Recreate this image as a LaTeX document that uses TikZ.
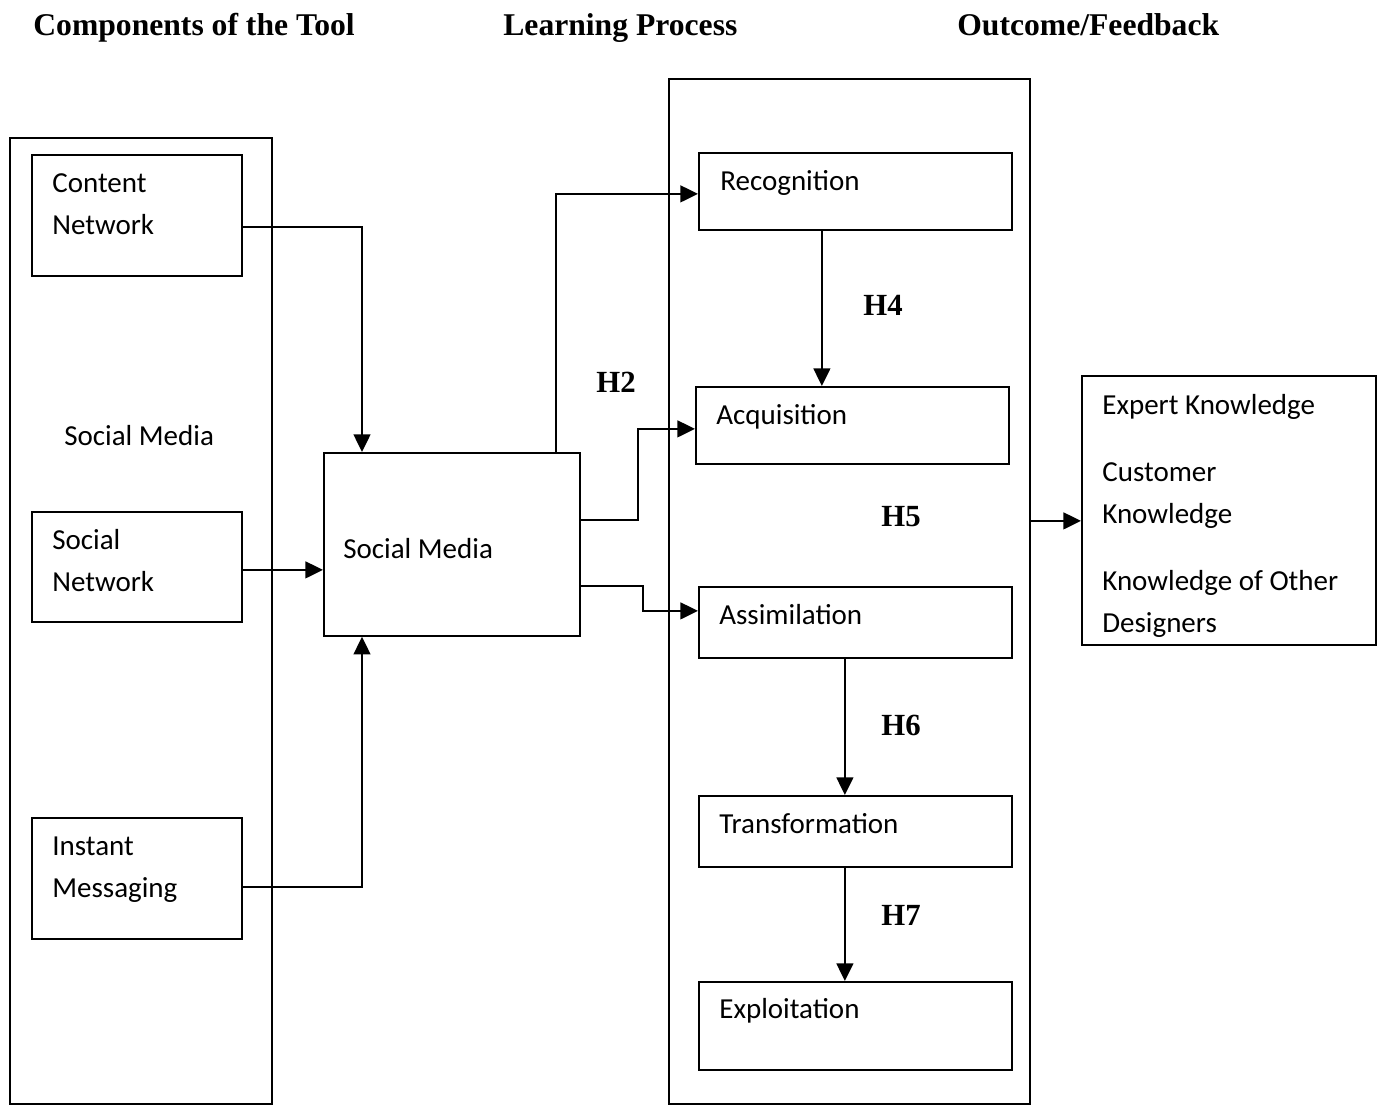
\documentclass[tikz,border=0pt]{standalone}
\usepackage{fontspec}
\setmainfont{Liberation Serif}
\newfontfamily\bodyfont{Carlito}
\usetikzlibrary{arrows.meta, positioning}
\tikzstyle{panel} = [rectangle, draw=black, line width=1pt, inner sep=0pt, anchor=north west]
\tikzstyle{stagebox} = [rectangle, draw=black, line width=1pt, inner sep=0pt, anchor=north west]
\tikzstyle{boxtext} = [anchor=base west, inner sep=0pt, align=left, font=\bodyfont\fontsize{16.5}{23.9}\selectfont]
\tikzstyle{heading} = [anchor=base west, inner sep=0pt, font=\bfseries\fontsize{18}{22}\selectfont]
\tikzstyle{hlabel} = [inner sep=0pt, font=\bfseries\fontsize{17.5}{21}\selectfont]
\tikzstyle{arrow} = [line width=1.2pt, -{Triangle[length=10pt,width=9.5pt]}]

\begin{document}
\begin{tikzpicture}
  \useasboundingbox (0,0) rectangle (27.66,-22.08);
  % column headings
  \node (hcomp) [heading] at (0.66,-0.70) {Components of the Tool};
  \node (hlearn) [heading] at (10.06,-0.70) {Learning Process};
  \node (hout) [heading] at (19.14,-0.70) {Outcome/Feedback};

  % panels
  \node (leftpanel) [panel, minimum width=5.24cm, minimum height=19.32cm] at (0.18,-2.74) {};
  \node (midpanel) [panel, minimum width=7.22cm, minimum height=20.50cm] at (13.36,-1.56) {};

  % tool components (base of a two-line text is its last line)
  \node (content) [stagebox, minimum width=4.20cm, minimum height=2.42cm] at (0.62,-3.08) {};
  \node (contenttxt) [boxtext] at ([xshift=0.42cm,yshift=-1.60cm]content.north west) {Content\\Network};
  \node (smlabel) [boxtext] at (1.28,-8.90) {Social Media};
  \node (social) [stagebox, minimum width=4.20cm, minimum height=2.20cm] at (0.62,-10.22) {};
  \node (socialtxt) [boxtext] at ([xshift=0.42cm,yshift=-1.60cm]social.north west) {Social\\Network};
  \node (instant) [stagebox, minimum width=4.20cm, minimum height=2.42cm] at (0.62,-16.34) {};
  \node (instanttxt) [boxtext] at ([xshift=0.42cm,yshift=-1.60cm]instant.north west) {Instant\\Messaging};

  \node (hub) [stagebox, minimum width=5.12cm, minimum height=3.66cm] at (6.46,-9.04) {};
  \node (hubtxt) [boxtext] at ([xshift=0.40cm,yshift=-2.12cm]hub.north west) {Social Media};

  % learning process
  \node (recog) [stagebox, minimum width=6.26cm, minimum height=1.54cm] at (13.96,-3.04) {};
  \node (recogtxt) [boxtext] at ([xshift=0.44cm,yshift=-0.76cm]recog.north west) {Recognition};
  \node (acq) [stagebox, minimum width=6.26cm, minimum height=1.54cm] at (13.90,-7.72) {};
  \node (acqtxt) [boxtext] at ([xshift=0.42cm,yshift=-0.76cm]acq.north west) {Acquisition};
  \node (assim) [stagebox, minimum width=6.26cm, minimum height=1.42cm] at (13.96,-11.72) {};
  \node (assimtxt) [boxtext] at ([xshift=0.42cm,yshift=-0.76cm]assim.north west) {Assimilation};
  \node (transf) [stagebox, minimum width=6.26cm, minimum height=1.42cm] at (13.96,-15.90) {};
  \node (transftxt) [boxtext] at ([xshift=0.42cm,yshift=-0.76cm]transf.north west) {Transformation};
  \node (exploit) [stagebox, minimum width=6.26cm, minimum height=1.76cm] at (13.96,-19.62) {};
  \node (exploittxt) [boxtext] at ([xshift=0.42cm,yshift=-0.74cm]exploit.north west) {Exploitation};

  % outcome
  \node (outcome) [stagebox, minimum width=5.88cm, minimum height=5.38cm] at (21.62,-7.50) {};
  \node (outcometxt) [boxtext] at ([xshift=0.42cm,yshift=-5.14cm]outcome.north west) {Expert Knowledge\\[0.5cm]Customer\\Knowledge\\[0.5cm]Knowledge of Other\\Designers};

  % hypotheses
  \node (h2) [hlabel] at (12.32,-7.64) {H2};
  \node (h4) [hlabel] at (17.66,-6.10) {H4};
  \node (h5) [hlabel] at (18.02,-10.34) {H5};
  \node (h6) [hlabel] at (18.02,-14.50) {H6};
  \node (h7) [hlabel] at (18.02,-18.30) {H7};

  % connectors
  \draw [arrow] ([yshift=-0.23cm]content.east) -| ([xshift=0.78cm]hub.north west);
  \draw [arrow] ([yshift=-0.06cm]social.east) -- ([yshift=-0.06cm]social.east -| hub.west);
  \draw [arrow] ([yshift=-0.17cm]instant.east) -| ([xshift=0.78cm]hub.south west);
  \draw [arrow] ([xshift=4.66cm]hub.north west) |- ([yshift=-0.05cm]recog.west);
  \draw [arrow] ([yshift=0.49cm]hub.east) -- ++(1.14,0) |- ([yshift=-0.07cm]acq.west);
  \draw [arrow] ([yshift=-0.83cm]hub.east) -- ++(1.24,0) |- ([yshift=0.23cm]assim.west);
  \draw [arrow] ([xshift=-0.67cm]recog.south) -- ([xshift=-0.67cm]recog.south |- acq.north);
  \draw [arrow] ([xshift=-0.21cm]assim.south) -- ([xshift=-0.21cm]assim.south |- transf.north);
  \draw [arrow] ([xshift=-0.21cm]transf.south) -- ([xshift=-0.21cm]transf.south |- exploit.north);
  \draw [arrow] ([yshift=-0.21cm]outcome.west -| midpanel.east) -- ([yshift=-0.21cm]outcome.west);
\end{tikzpicture}
\end{document}
